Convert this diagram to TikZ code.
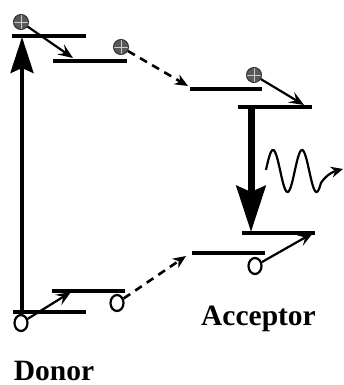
\documentclass[tikz,border=0pt]{standalone}
\usepackage{fontspec}
\setmainfont{Liberation Serif}
\usetikzlibrary{arrows.meta,shapes.geometric}
\begin{document}
\begin{tikzpicture}[x=1pt,y=-1pt,
  level/.style={line width=3.2pt},
  elec/.style={circle,minimum size=15pt,inner sep=0pt,fill=gray!70!black,draw=black!80,line width=1pt,
    path picture={\draw[gray!40,line width=0.8pt] (path picture bounding box.north) -- (path picture bounding box.south)
      (path picture bounding box.west) -- (path picture bounding box.east);}},
  hole/.style={ellipse,minimum width=13pt,minimum height=16pt,inner sep=0pt,draw=black,line width=2.2pt,fill=white},
  hop/.style={line width=2.2pt,-{Stealth[length=15pt,width=12pt,inset=6pt]}},
  transfer/.style={line width=2.6pt,dash pattern=on 8pt off 6pt,-{Stealth[length=13pt,width=11pt,inset=4pt]}},
  lbl/.style={font=\fontsize{29.5}{32}\selectfont\bfseries,inner sep=0pt}
]
\useasboundingbox (0,0) rectangle (344,385);
% donor levels
\draw[level] (12,36) -- (86,36);
\draw[level] (53,61) -- (127,61);
\draw[level] (52,291) -- (125,291);
\draw[level] (13,312) -- (86,312);
% acceptor levels
\draw[level] (190,89) -- (262,89);
\draw[level] (238,107) -- (312,107);
\draw[level] (242,233) -- (315,233);
\draw[level] (192,253) -- (265,253);
% coordinates
\coordinate (dtop) at (22,37);
\coordinate (dbot) at (22,312);
\coordinate (h1) at (73,58);
\coordinate (dA) at (188,86);
\coordinate (h2) at (304,105);
\coordinate (aT) at (251,107);
\coordinate (aB) at (251,232);
\coordinate (h3) at (313,233);
\coordinate (h4) at (71,292);
\coordinate (dB) at (186,256);
\coordinate (ph) at (343,169);
% excitation arrow
\draw[line width=4pt,-{Stealth[length=36pt,width=23pt,inset=5pt]}] (dbot) -- (dtop);
% emission arrow
\draw[line width=7pt,-{Stealth[length=46pt,width=29pt,inset=6pt]}] (aT) -- (aB);
% electrons
\node[elec] (e1) at (21,22) {};
\node[elec] (e2) at (121,47) {};
\node[elec] (e3) at (254,75) {};
\node[hole] (o1) at (21,323) {};
\node[hole] (o2) at (117,303) {};
\node[hole] (o3) at (255,266) {};
% hops
\draw[hop] (e1) -- (h1);
\draw[hop] (e3) -- (h2);
\draw[hop] (o3) -- (h3);
\draw[hop] (o1) -- (h4);
% transfers
\draw[transfer] (e2) -- (dA);
\draw[transfer] (o2) -- (dB);
% photon
\draw[line width=2.2pt,-{Stealth[length=12pt,width=11pt,inset=4pt]}]
  plot[domain=266:321,samples=80,smooth] (\x,{171-21*cos(12.4138*(\x-273))}) to[out=55,in=195] (ph);
% labels
\node[lbl,anchor=base] (acc) at (258.5,325) {Acceptor};
\node[lbl,anchor=base] (don) at (54,380) {Donor};
\end{tikzpicture}
\end{document}
